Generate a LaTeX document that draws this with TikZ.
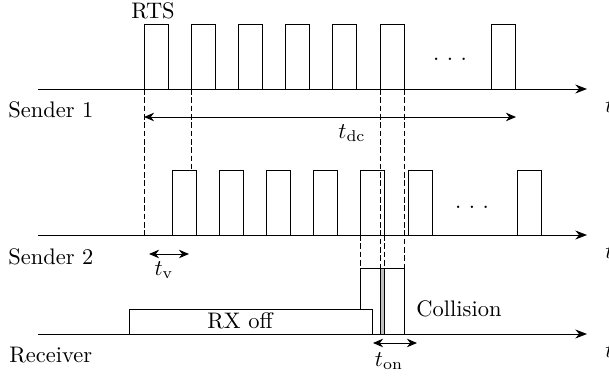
\documentclass[tikz,border=0pt]{standalone}
\usetikzlibrary{arrows.meta}
\tikzset{
    pulse/.style={draw},
    guide/.style={dash pattern=on 2.5pt off 1.2pt},
    timeline/.style={-{Stealth[length=5.2pt,width=4pt]}},
    span/.style={{Stealth[length=4.5pt,width=3.8pt]}-{Stealth[length=4.5pt,width=3.8pt]}},
    lane/.style={anchor=west, inner sep=0pt}
}
\begin{document}
\begin{tikzpicture}[x=0.445pt,y=-0.445pt]
    \useasboundingbox (0,0) rectangle (609,377);
    \draw[timeline] (38,89) -- (587,89); \draw[timeline] (38,235) -- (587,235); \draw[timeline] (38,334) -- (587,334);
    \foreach \x in {144,191.2,238.4,285.6,332.8,380,491} \draw[pulse] (\x,89) rectangle ++(24,-65);
    \foreach \x in {172,219.2,266.4,313.6,360.8,408,517} \draw[pulse] (\x,235) rectangle ++(24,-65);
    \draw[guide] (144,89) -- (144,235); \draw[guide] (191.2,89) -- (191.2,170);
    \draw[guide] (380,89) -- (380,268); \draw[guide] (404,89) -- (404,268);
    \draw[guide] (360.8,235) -- (360.8,268); \draw[guide] (384.8,235) -- (384.8,268);
    \draw (360.8,334) rectangle (404,268); \draw[fill=gray!50] (380,334) rectangle (384.8,268);
    \draw[fill=white] (129,334) rectangle (372,309);
    \coordinate (dcL) at (144,117); \coordinate (dcR) at (516,117); \draw[span] (dcL) -- (dcR);
    \coordinate (vL) at (149,254); \coordinate (vR) at (189,254); \draw[span] (vL) -- (vR);
    \coordinate (onL) at (373,343); \coordinate (onR) at (417,343); \draw[span] (onL) -- (onR);
    \node (rts) at (153,11) {RTS};
    \node[lane] (snd1) at (8,110) {Sender 1}; \node[lane] (snd2) at (8,257) {Sender 2}; \node[lane] (rcv) at (9,355) {Receiver};
    \node (tdc) at (352,133) {$t_{\mathrm{dc}}$}; \node (tv) at (164,270) {$t_{\mathrm{v}}$}; \node (ton) at (389,361) {$t_{\mathrm{on}}$};
    \node (rxoff) at (240,321) {RX off}; \node (coll) at (459,309) {Collision};
    \node[anchor=base] (dots1) at (450,61) {.\ .\ .}; \node[anchor=base] (dots2) at (472,209) {.\ .\ .};
    \node[lane] (t1) at (605,106) {$t$}; \node[lane] (t2) at (605,252) {$t$}; \node[lane] (t3) at (605,351) {$t$};
\end{tikzpicture}
\end{document}
